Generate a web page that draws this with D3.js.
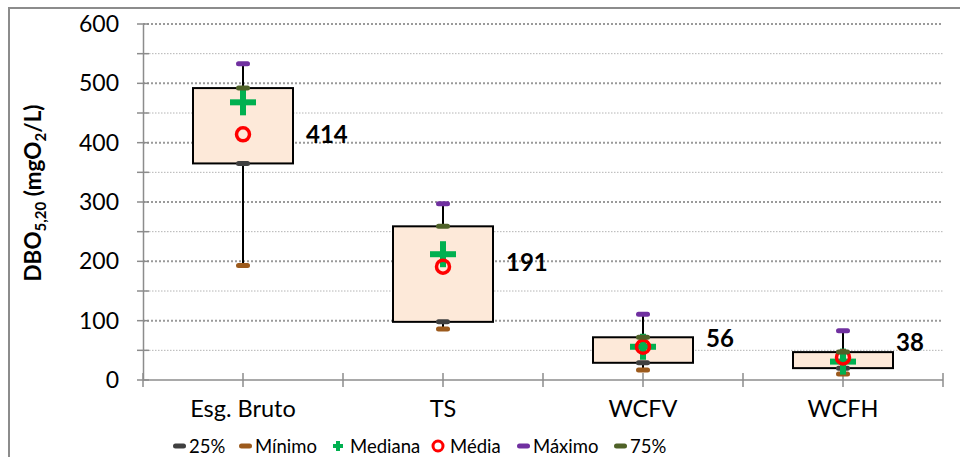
<!DOCTYPE html>
<html>
<head>
<meta charset="utf-8">
<script src="https://cdn.jsdelivr.net/npm/d3@7"></script>
<style>
  body { margin: 0; background: #fff; }
  svg { display: block; font-family: Lato, "Open Sans", sans-serif; }
</style>
</head>
<body>
<svg id="chart" width="960" height="457"></svg>
<script>
// data
const categories = ["Esg. Bruto", "TS", "WCFV", "WCFH"];
const minimo = [193, 86, 17, 10];
const q1 = [365, 98, 29, 20];
const mediana = [468, 212, 56, 31];
const media = [414, 191, 56, 38];
const q3 = [492, 259, 72, 47];
const maximo = [533, 297, 111, 83];
const mediaLabels = ["414", "191", "56", "38"];
const yTicks = [0, 100, 200, 300, 400, 500, 600];

const svg = d3.select("#chart");
const plotLeft = 143, plotRight = 943, plotTop = 24, plotBottom = 380;

const x = d3.scaleBand().domain(categories).range([plotLeft, plotRight]);
const y = d3.scaleLinear().domain([0, 600]).range([plotBottom, plotTop]);

// outer frame (only top and left visible)
svg.append("path")
  .attr("d", "M9,457 L9,8 L960,8")
  .attr("fill", "none")
  .attr("stroke", "#8c8c8c")
  .attr("stroke-width", 2);

// gridlines
const minorTicks = d3.range(50, 600, 100);
svg.append("g").selectAll("line").data(minorTicks).enter().append("line")
  .attr("x1", plotLeft).attr("x2", plotRight)
  .attr("y1", (d) => y(d)).attr("y2", (d) => y(d))
  .attr("stroke", "#b4b4b4").attr("stroke-width", 1)
  .attr("stroke-dasharray", "1.5,1.5");
svg.append("g").selectAll("line").data(yTicks.filter((d) => d > 0)).enter().append("line")
  .attr("x1", plotLeft).attr("x2", plotRight)
  .attr("y1", (d) => y(d)).attr("y2", (d) => y(d))
  .attr("stroke", "#9a9a9a").attr("stroke-width", 2)
  .attr("stroke-dasharray", "2,2");

// y axis
const yAxis = svg.append("g").attr("transform", `translate(${plotLeft},0)`)
  .call(d3.axisLeft(y).tickValues(yTicks).tickSize(0).tickPadding(24));
yAxis.select(".domain").attr("stroke", "#8c8c8c").attr("stroke-width", 1.5);
yAxis.selectAll("text").attr("font-size", 23).attr("fill", "#000")
  .attr("font-family", "Lato, sans-serif");
svg.append("g").selectAll("line").data(d3.range(0, 650, 50)).enter().append("line")
  .attr("x1", plotLeft - 6).attr("x2", plotLeft + 6)
  .attr("y1", (d) => y(d)).attr("y2", (d) => y(d))
  .attr("stroke", "#8c8c8c").attr("stroke-width", 1.5);

// x axis
svg.append("line")
  .attr("x1", plotLeft).attr("x2", plotRight).attr("y1", plotBottom).attr("y2", plotBottom)
  .attr("stroke", "#8c8c8c").attr("stroke-width", 1.5);
const xTickPos = d3.range(0, categories.length * 2 + 1).map((i) => plotLeft + i * x.bandwidth() / 2);
svg.append("g").selectAll("line").data(xTickPos).enter().append("line")
  .attr("x1", (d) => d).attr("x2", (d) => d)
  .attr("y1", plotBottom - 7).attr("y2", plotBottom + 7)
  .attr("stroke", "#8c8c8c").attr("stroke-width", 1.5);
svg.append("g").selectAll("text").data(categories).enter().append("text")
  .attr("x", (d) => x(d) + x.bandwidth() / 2)
  .attr("y", 417)
  .attr("text-anchor", "middle")
  .attr("font-size", 23.5)
  .text((d) => d);

// y axis title
const title = svg.append("text")
  .attr("transform", "translate(41,193) rotate(-90)")
  .attr("text-anchor", "middle")
  .attr("font-size", 22.5)
  .attr("font-weight", "bold");
title.append("tspan").text("DBO");
title.append("tspan").attr("font-size", 15).attr("dy", 5).text("5,20");
title.append("tspan").attr("dy", -5).text(" (mgO");
title.append("tspan").attr("font-size", 15).attr("dy", 5).text("2");
title.append("tspan").attr("dy", -5).text("/L)");

const boxW = x.bandwidth() / 2;
const cx = (i) => x(categories[i]) + x.bandwidth() / 2;
const idx = categories.map((d, i) => i);

// whiskers
svg.append("g").selectAll("line").data(idx).enter().append("line")
  .attr("x1", cx).attr("x2", cx)
  .attr("y1", (i) => y(minimo[i])).attr("y2", (i) => y(maximo[i]))
  .attr("stroke", "#000").attr("stroke-width", 2);

// boxes
svg.append("g").selectAll("rect").data(idx).enter().append("rect")
  .attr("x", (i) => cx(i) - boxW / 2)
  .attr("width", boxW)
  .attr("y", (i) => y(q3[i]))
  .attr("height", (i) => y(q1[i]) - y(q3[i]))
  .attr("fill", "#fde9d9")
  .attr("stroke", "#000")
  .attr("stroke-width", 2);

// dash markers
function dashes(values, color) {
  svg.append("g").selectAll("rect").data(idx).enter().append("rect")
    .attr("x", (i) => cx(i) - 7)
    .attr("y", (i) => y(values[i]) - 2.5)
    .attr("width", 14).attr("height", 5)
    .attr("rx", 2.5)
    .attr("fill", color);
}
dashes(minimo, "#9c5a1c");
dashes(maximo, "#7030a0");
dashes(q1, "#404040");

// median crosses
const cross = svg.append("g").selectAll("g").data(idx).enter().append("g")
  .attr("transform", (i) => `translate(${cx(i)},${y(mediana[i])})`);
cross.append("rect").attr("x", -13).attr("y", -3).attr("width", 26).attr("height", 6).attr("fill", "#00b050");
cross.append("rect").attr("x", -3).attr("y", -13).attr("width", 6).attr("height", 26).attr("fill", "#00b050");

// mean circles
svg.append("g").selectAll("circle").data(idx).enter().append("circle")
  .attr("cx", cx).attr("cy", (i) => y(media[i]))
  .attr("r", 6.5)
  .attr("fill", "none")
  .attr("stroke", "#ff0000")
  .attr("stroke-width", 3.5);

dashes(q3, "#4f6228");

// mean labels
const labelDx = [13, 13, 13, 3];
const labelDy = [0, -4, -8, -15];
svg.append("g").selectAll("text").data(idx).enter().append("text")
  .attr("x", (i) => cx(i) + boxW / 2 + labelDx[i])
  .attr("y", (i) => y(media[i]) + labelDy[i])
  .attr("dy", "0.36em")
  .attr("font-size", 24)
  .attr("font-weight", "bold")
  .text((i) => mediaLabels[i]);

// legend
const legend = [
  { name: "25%", type: "dash", color: "#404040", x: 173 },
  { name: "Mínimo", type: "dash", color: "#9c5a1c", x: 239 },
  { name: "Mediana", type: "cross", color: "#00b050", x: 333 },
  { name: "Média", type: "circle", color: "#ff0000", x: 433 },
  { name: "Máximo", type: "dash", color: "#7030a0", x: 517 },
  { name: "75%", type: "dash", color: "#4f6228", x: 614 }
];
const ly = 446;
const lg = svg.append("g").selectAll("g").data(legend).enter().append("g")
  .attr("transform", (d) => `translate(${d.x},${ly})`);
lg.filter((d) => d.type === "dash").append("rect")
  .attr("x", 0).attr("y", -2.5).attr("width", 13).attr("height", 5).attr("rx", 2.5)
  .attr("fill", (d) => d.color);
lg.filter((d) => d.type === "cross").each(function (d) {
  const g = d3.select(this);
  g.append("rect").attr("x", 0).attr("y", -2).attr("width", 10).attr("height", 4).attr("fill", d.color);
  g.append("rect").attr("x", 3).attr("y", -5).attr("width", 4).attr("height", 10).attr("fill", d.color);
});
lg.filter((d) => d.type === "circle").append("circle")
  .attr("cx", 5).attr("cy", 0).attr("r", 5)
  .attr("fill", "none").attr("stroke", (d) => d.color).attr("stroke-width", 3);
lg.append("text")
  .attr("x", (d) => (d.type === "dash" ? 16 : 17))
  .attr("y", 0)
  .attr("dy", "0.36em")
  .attr("font-size", 18.5)
  .text((d) => d.name);
</script>
</body>
</html>
